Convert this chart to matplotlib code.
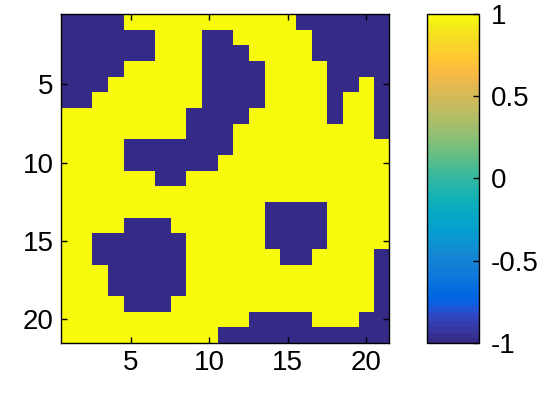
import numpy as np
import matplotlib
matplotlib.use("Agg")
import matplotlib.pyplot as plt
from matplotlib.colors import ListedColormap

plt.rcParams['font.family'] = ['Liberation Sans', 'DejaVu Sans']

# MATLAB parula (64 entries)
parula_rgb = [
    [0.2081, 0.1663, 0.5292], [0.2116, 0.1898, 0.5777], [0.2123, 0.2138, 0.6270], [0.2081, 0.2386, 0.6771],
    [0.1959, 0.2645, 0.7279], [0.1707, 0.2919, 0.7792], [0.1253, 0.3242, 0.8303], [0.0591, 0.3598, 0.8683],
    [0.0117, 0.3875, 0.8820], [0.0060, 0.4086, 0.8828], [0.0165, 0.4266, 0.8786], [0.0329, 0.4430, 0.8720],
    [0.0498, 0.4586, 0.8641], [0.0629, 0.4737, 0.8554], [0.0723, 0.4887, 0.8467], [0.0779, 0.5040, 0.8384],
    [0.0793, 0.5200, 0.8312], [0.0749, 0.5375, 0.8263], [0.0641, 0.5570, 0.8240], [0.0488, 0.5772, 0.8228],
    [0.0343, 0.5966, 0.8199], [0.0265, 0.6137, 0.8135], [0.0239, 0.6287, 0.8038], [0.0231, 0.6418, 0.7913],
    [0.0228, 0.6535, 0.7768], [0.0267, 0.6642, 0.7607], [0.0384, 0.6743, 0.7436], [0.0590, 0.6838, 0.7254],
    [0.0843, 0.6928, 0.7062], [0.1133, 0.7015, 0.6859], [0.1453, 0.7098, 0.6646], [0.1801, 0.7177, 0.6424],
    [0.2178, 0.7250, 0.6193], [0.2586, 0.7317, 0.5954], [0.3022, 0.7376, 0.5712], [0.3482, 0.7424, 0.5473],
    [0.3953, 0.7459, 0.5244], [0.4420, 0.7481, 0.5033], [0.4871, 0.7491, 0.4840], [0.5300, 0.7491, 0.4661],
    [0.5709, 0.7485, 0.4494], [0.6099, 0.7473, 0.4337], [0.6473, 0.7456, 0.4188], [0.6834, 0.7435, 0.4044],
    [0.7184, 0.7411, 0.3905], [0.7525, 0.7384, 0.3768], [0.7858, 0.7356, 0.3633], [0.8185, 0.7327, 0.3498],
    [0.8507, 0.7299, 0.3360], [0.8824, 0.7274, 0.3217], [0.9139, 0.7258, 0.3063], [0.9450, 0.7261, 0.2886],
    [0.9739, 0.7314, 0.2666], [0.9938, 0.7455, 0.2403], [0.9990, 0.7653, 0.2164], [0.9955, 0.7861, 0.1967],
    [0.9880, 0.8066, 0.1794], [0.9789, 0.8271, 0.1633], [0.9697, 0.8481, 0.1475], [0.9626, 0.8705, 0.1309],
    [0.9589, 0.8949, 0.1132], [0.9598, 0.9218, 0.0948], [0.9661, 0.9514, 0.0755], [0.9763, 0.9831, 0.0538],
]
parula = ListedColormap(parula_rgb, name="parula")

# blue (-1) cells per row, given as 1-based column ranges; all others are +1
n = 21
blue_runs = {
    1: [(1, 4), (16, 21)],
    2: [(1, 6), (10, 11), (17, 21)],
    3: [(1, 6), (10, 12), (17, 21)],
    4: [(1, 4), (10, 13), (18, 21)],
    5: [(1, 3), (10, 13), (18, 19), (21, 21)],
    6: [(1, 2), (10, 13), (18, 18), (21, 21)],
    7: [(9, 12), (18, 18), (21, 21)],
    8: [(9, 11), (21, 21)],
    9: [(5, 11)],
    10: [(5, 10)],
    11: [(7, 8)],
    12: [],
    13: [(14, 17)],
    14: [(5, 7), (14, 17)],
    15: [(3, 8), (14, 17)],
    16: [(3, 8), (15, 16), (21, 21)],
    17: [(4, 8), (21, 21)],
    18: [(4, 8), (21, 21)],
    19: [(5, 7), (21, 21)],
    20: [(13, 16), (20, 21)],
    21: [(11, 21)],
}

grid = np.ones((n, n))
for r, runs in blue_runs.items():
    for a, b in runs:
        grid[r - 1, a - 1:b] = -1

xticks = [5, 10, 15, 20]
yticks = [5, 10, 15, 20]
cbar_ticks = [-1, -0.5, 0, 0.5, 1]
cbar_labels = ["-1", "-0.5", "0", "0.5", "1"]

fig = plt.figure(figsize=(5.5, 4.04), dpi=100)
ax = fig.add_axes([0.110, 0.1515, 0.598, 0.814])
im = ax.imshow(grid, cmap=parula, vmin=-1, vmax=1, aspect="auto",
               interpolation="nearest", extent=(0.5, n + 0.5, n + 0.5, 0.5))
ax.set_xlim(0.5, n + 0.5)
ax.set_ylim(n + 0.5, 0.5)
ax.set_xticks(xticks)
ax.set_yticks(yticks)
ax.tick_params(direction="in", length=4, width=1, labelsize=20,
               top=True, right=True, pad=5)
for s in ax.spines.values():
    s.set_linewidth(1.0)

cax = fig.add_axes([0.777, 0.1515, 0.0945, 0.814])
cb = fig.colorbar(im, cax=cax, ticks=cbar_ticks)
cb.ax.set_yticklabels(cbar_labels)
cb.ax.tick_params(direction="in", length=4, width=1, labelsize=20, pad=8)
cb.outline.set_linewidth(1.0)

fig.savefig("out.png", dpi=100)
